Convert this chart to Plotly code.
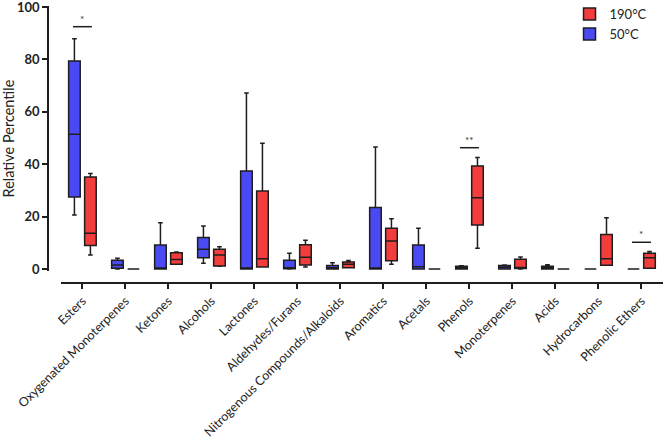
import plotly.graph_objects as go

categories = ["Esters", "Oxygenated Monoterpenes", "Ketones", "Alcohols", "Lactones",
              "Aldehydes/Furans", "Nitrogenous Compounds/Alkaloids", "Aromatics", "Acetals",
              "Phenols", "Monoterpenes", "Acids", "Hydrocarbons", "Phenolic Ethers"]

# 50°C (blue)
b_low = [20.6, 0.0, 0.0, 2.2, 0.0, 0.0, 0.0, 0.0, 0.0, 0.0, 0.0, 0.0, 0.0, 0.0]
b_q1 = [27.5, 0.3, 0.0, 4.3, 0.0, 0.1, 0.0, 0.0, 0.0, 0.0, 0.0, 0.0, 0.0, 0.0]
b_med = [51.4, 1.5, 0.3, 7.5, 0.2, 0.5, 0.5, 0.3, 0.9, 0.5, 0.7, 0.5, 0.0, 0.0]
b_q3 = [79.4, 3.3, 9.2, 12.0, 37.4, 3.3, 1.3, 23.5, 9.2, 1.0, 1.3, 1.0, 0.0, 0.0]
b_high = [87.9, 4.1, 17.7, 16.4, 67.2, 6.0, 2.4, 46.6, 15.6, 1.2, 1.5, 1.6, 0.0, 0.0]

# 190°C (red)
r_low = [5.3, 0.0, 1.8, 1.0, 0.8, 0.8, 0.5, 1.8, 0.0, 7.9, 0.0, 0.0, 1.4, 0.3]
r_q1 = [9.0, 0.0, 1.8, 1.1, 0.8, 1.5, 0.5, 3.1, 0.0, 16.8, 0.2, 0.0, 1.4, 0.3]
r_med = [13.6, 0.0, 3.6, 5.3, 3.9, 4.5, 1.8, 10.7, 0.0, 27.2, 0.4, 0.0, 3.9, 4.3]
r_q3 = [35.1, 0.0, 6.2, 7.5, 29.8, 9.3, 2.7, 15.6, 0.0, 39.3, 3.7, 0.0, 13.2, 6.0]
r_high = [36.5, 0.0, 6.5, 8.5, 48.0, 11.0, 3.2, 19.2, 0.0, 42.6, 4.6, 0.0, 19.6, 6.7]

# significance markers: (category, bar height, label)
sig_cats = ["Esters", "Phenols", "Phenolic Ethers"]
sig_y = [92.5, 46.3, 10.2]
sig_text = ["*", "**", "*"]

BLUE = "#4a4af5"
RED = "#f33c3c"
LINE = "#1e1e1e"
FONT = "Lato"

fig = go.Figure()
fig.add_trace(go.Box(
    name="50°C", x=categories, q1=b_q1, median=b_med, q3=b_q3,
    lowerfence=b_low, upperfence=b_high,
    fillcolor=BLUE, line=dict(color=LINE, width=1.5),
    whiskerwidth=0.4, boxpoints=False, hoverinfo="skip"))
fig.add_trace(go.Box(
    name="190°C", x=categories, q1=r_q1, median=r_med, q3=r_q3,
    lowerfence=r_low, upperfence=r_high,
    fillcolor=RED, line=dict(color=LINE, width=1.5),
    whiskerwidth=0.4, boxpoints=False, hoverinfo="skip"))

for c, yv, t in zip(sig_cats, sig_y, sig_text):
    i = categories.index(c)
    fig.add_shape(type="line", xref="x", yref="y", x0=i - 0.22, x1=i + 0.22,
                  y0=yv, y1=yv, line=dict(color=LINE, width=1.5))
    fig.add_annotation(x=i, y=yv, xref="x", yref="y", text=t, showarrow=False,
                       yshift=8, font=dict(family=FONT, size=10, color="#333"))

fig.update_layout(
    width=666, height=442,
    margin=dict(l=48, r=3, t=6, b=159, autoexpand=False),
    paper_bgcolor="white", plot_bgcolor="white",
    boxmode="group", boxgap=0.256, boxgroupgap=0.275,
    font=dict(family=FONT, color="#222"),
    legend=dict(x=0.848, y=1.025, xanchor="left", yanchor="top",
                traceorder="reversed", font=dict(family=FONT, size=13, color="#222"),
                bgcolor="rgba(0,0,0,0)", itemwidth=30, tracegroupgap=4),
    showlegend=True,
    xaxis=dict(domain=[0.021, 1.0], anchor="free", position=0, automargin=False,
               type="category", categoryorder="array", categoryarray=categories,
               range=[-0.5, 13.5],
               showline=True, linecolor=LINE, linewidth=1.5,
               ticks="outside", ticklen=5, tickcolor=LINE, tickwidth=1.5,
               tickangle=-45, tickfont=dict(family=FONT, size=12.5, color="#222"),
               ticklabeloverflow="allow",
               showgrid=False, zeroline=False),
    yaxis=dict(domain=[0.043, 1.0], anchor="free", position=0, automargin=False,
               range=[-0.8, 100.4], tickvals=[0, 20, 40, 60, 80, 100],
               showline=True, linecolor=LINE, linewidth=1.5,
               ticks="outside", ticklen=5, tickcolor=LINE, tickwidth=1.5,
               tickfont=dict(family=FONT, size=13, color="#222", weight="bold"),
               ticklabeloverflow="allow",
               title=dict(text="Relative Percentile", font=dict(family=FONT, size=14.5, color="#222"),
                          standoff=6),
               showgrid=False, zeroline=False),
)

fig.write_html("out.html", config={"displayModeBar": False},
               post_script="document.body.style.margin='0';")
